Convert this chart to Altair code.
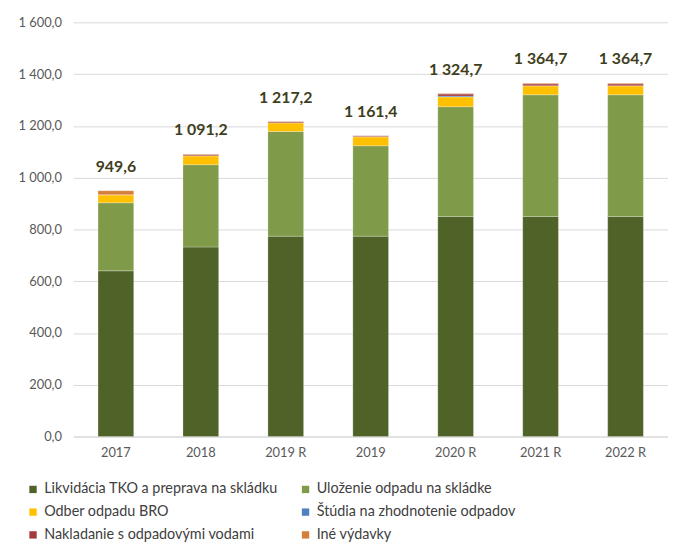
import altair as alt
import pandas as pd

years = ["2017", "2018", "2019 R", "2019", "2020 R", "2021 R", "2022 R"]
series = [
    "Likvidácia TKO a preprava na skládku",
    "Uloženie odpadu na skládke",
    "Odber odpadu BRO",
    "Štúdia na zhodnotenie odpadov",
    "Nakladanie s odpadovými vodami",
    "Iné výdavky",
]
colors = ["#4F6228", "#7F9A48", "#FFC000", "#4F81BD", "#A33B3E", "#D47F3A"]

likvidacia = [640.0, 732.0, 774.0, 774.0, 850.0, 850.0, 850.0]
ulozenie = [263.0, 318.0, 404.0, 349.0, 424.0, 470.0, 470.0]
odber = [31.0, 34.5, 34.0, 35.0, 38.0, 35.0, 35.0]
studia = [0.0, 0.0, 0.0, 0.0, 3.0, 0.0, 0.0]
nakladanie = [0.0, 5.0, 5.2, 3.4, 8.0, 7.0, 7.0]
ine = [15.6, 1.7, 0.0, 0.0, 1.7, 2.7, 2.7]
totals = [949.6, 1091.2, 1217.2, 1161.4, 1324.7, 1364.7, 1364.7]

values = [likvidacia, ulozenie, odber, studia, nakladanie, ine]
rows = []
for si, (name, vals) in enumerate(zip(series, values)):
    for yi, y in enumerate(years):
        rows.append({"rok": y, "polozka": name, "hodnota": vals[yi], "poradie": si})
df = pd.DataFrame(rows)


def sk(v):
    s = f"{v:,.1f}"
    return s.replace(",", " ").replace(".", ",")


tdf = pd.DataFrame({"rok": years, "spolu": totals, "label": [sk(t) for t in totals]})

# legend is laid out column by column, so order entries to read row by row
legend_order = [series[0], series[2], series[4], series[1], series[3], series[5]]
legend_colors = [colors[series.index(s)] for s in legend_order]

FONT = "Lato"

x = alt.X(
    "rok:N",
    sort=years,
    title=None,
    scale=alt.Scale(paddingInner=0.58, paddingOuter=0.29),
    axis=alt.Axis(
        labelAngle=0,
        labelFontSize=13,
        labelColor="#595959",
        labelFont=FONT,
        labelPadding=10,
        ticks=False,
        domainColor="#D9D9D9",
        domainWidth=1,
    ),
)

bars = alt.Chart(df).mark_bar(stroke="#ffffff", strokeWidth=0.4, strokeOpacity=0.6).encode(
    x=x,
    y=alt.Y(
        "hodnota:Q",
        stack="zero",
        title=None,
        scale=alt.Scale(domain=[0, 1600], nice=False),
        axis=alt.Axis(
            values=[0, 200, 400, 600, 800, 1000, 1200, 1400, 1600],
            labelExpr="replace(replace(format(datum.value, ',.1f'), ',', ' '), '.', ',')",
            labelFontSize=13,
            labelColor="#595959",
            labelFont=FONT,
            labelPadding=12,
            ticks=False,
            domain=False,
            gridColor="#D9D9D9",
            gridWidth=1,
        ),
    ),
    color=alt.Color(
        "polozka:N",
        scale=alt.Scale(domain=legend_order, range=legend_colors),
        legend=alt.Legend(
            title=None,
            orient="none",
            legendX=-48,
            legendY=464,
            columns=2,
            columnPadding=20,
            rowPadding=8,
            symbolType="square",
            symbolSize=55,
            symbolStrokeWidth=0,
            labelFontSize=14.5,
            labelFont=FONT,
            labelColor="#404040",
            labelLimit=320,
        ),
    ),
    order=alt.Order("poradie:Q", sort="ascending"),
)

labels = alt.Chart(tdf).mark_text(
    fontSize=16, fontWeight="bold", font=FONT, color="#3F3E1C", dy=-24
).encode(x=alt.X("rok:N", sort=years), y=alt.Y("spolu:Q"), text="label:N")

chart = (
    alt.layer(bars, labels)
    .properties(
        width=600,
        height=418,
        autosize=alt.AutoSizeParams(type="none"),
        padding={"left": 66, "top": 12, "right": 0, "bottom": 108},
    )
    .configure_view(stroke=None)
)

chart.save("out.html", embed_options={"renderer": "svg", "actions": False})
